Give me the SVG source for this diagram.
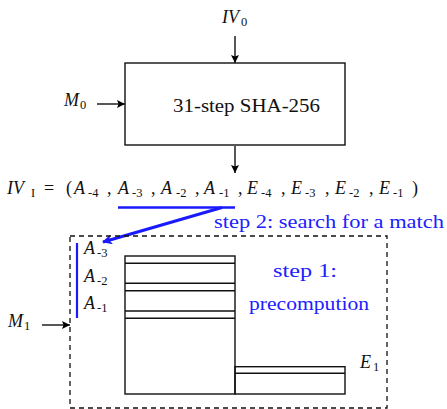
<svg xmlns="http://www.w3.org/2000/svg" width="447" height="409" viewBox="0 0 447 409">
<defs>
<marker id="ah" viewBox="0 0 10 10" refX="10" refY="5" markerWidth="10" markerHeight="8" markerUnits="userSpaceOnUse" orient="auto"><path d="M0,0 L10,5 L0,10 L2,5 z" fill="#000"/></marker>
<marker id="bh" viewBox="0 0 10 10" refX="9" refY="5" markerWidth="14" markerHeight="10" markerUnits="userSpaceOnUse" orient="auto"><path d="M0,0 L10,5 L0,10 L2.5,5 z" fill="#1a1aff"/></marker>
<style>
text{font-family:'Liberation Serif', serif;font-size:18px;fill:#111}
.m{font-style:italic}
.s{font-size:12.5px;font-style:normal}
.b{fill:#2020ff}
.box{fill:none;stroke:#111;stroke-width:1.4}
.ln{stroke:#111;stroke-width:1.4;fill:none}
</style>
</defs>
<g id="connectors">
<line class="ln" x1="235" y1="36" x2="235" y2="63" marker-end="url(#ah)"/>
<line class="ln" x1="97" y1="104" x2="125" y2="104" marker-end="url(#ah)"/>
<line class="ln" x1="235" y1="146" x2="235" y2="173" marker-end="url(#ah)"/>
<line class="ln" x1="42" y1="325" x2="70" y2="325" marker-end="url(#ah)"/>
<line x1="118" y1="207.5" x2="235" y2="207.5" stroke="#1a1aff" stroke-width="2.5"/>
<line x1="222" y1="207.5" x2="103" y2="242" stroke="#1a1aff" stroke-width="3" marker-end="url(#bh)"/>
</g>
<g id="iv0"><text class="m" x="222" y="23">IV</text><text class="s" x="241" y="26">0</text></g>
<g id="m0"><text class="m" x="64" y="106">M</text><text class="s" x="80" y="109">0</text></g>
<g id="sha"><rect class="box" x="125" y="63" width="220" height="82"/><text x="173" y="112" textLength="147" lengthAdjust="spacingAndGlyphs">31-step SHA-256</text></g>
<g id="ivi">
<text class="m" x="7" y="194">IV</text><text class="s" x="31" y="197" font-style="italic">I</text>
<text x="44" y="194">=</text><text x="66" y="194">(</text>
<text class="m" x="74" y="194">A</text><text class="s" x="88" y="197">-4</text><text x="107" y="194">,</text>
<text class="m" x="118" y="194">A</text><text class="s" x="132" y="197">-3</text><text x="151" y="194">,</text>
<text class="m" x="161" y="194">A</text><text class="s" x="176" y="197">-2</text><text x="195" y="194">,</text>
<text class="m" x="204" y="194">A</text><text class="s" x="219" y="197">-1</text><text x="238" y="194">,</text>
<text class="m" x="247" y="194">E</text><text class="s" x="261" y="197">-4</text><text x="281" y="194">,</text>
<text class="m" x="291" y="194">E</text><text class="s" x="305" y="197">-3</text><text x="325" y="194">,</text>
<text class="m" x="335" y="194">E</text><text class="s" x="349" y="197">-2</text><text x="369" y="194">,</text>
<text class="m" x="379" y="194">E</text><text class="s" x="393" y="197">-1</text><text x="412" y="194">)</text>
</g>
<g id="step2"><text class="b" x="214" y="228" textLength="230" lengthAdjust="spacingAndGlyphs">step 2: search for a match</text></g>
<g id="precomp">
<rect x="70" y="236" width="317" height="172" fill="none" stroke="#111" stroke-width="1.3" stroke-dasharray="5,4"/>
<line x1="77" y1="243" x2="77" y2="318" stroke="#1a1aff" stroke-width="2.2"/>
<text class="m" x="84" y="254">A</text><text class="s" x="97" y="257">-3</text>
<text class="m" x="84" y="282">A</text><text class="s" x="97" y="285">-2</text>
<text class="m" x="84" y="309">A</text><text class="s" x="97" y="312">-1</text>
<rect class="box" x="125" y="256" width="110" height="138"/>
<line class="ln" x1="125" y1="263.3" x2="235" y2="263.3"/>
<line class="ln" x1="125" y1="283.3" x2="235" y2="283.3"/>
<line class="ln" x1="125" y1="290.7" x2="235" y2="290.7"/>
<line class="ln" x1="125" y1="311" x2="235" y2="311"/>
<line class="ln" x1="125" y1="318.3" x2="235" y2="318.3"/>
<rect class="box" x="235" y="366.7" width="110" height="27.3"/>
<line class="ln" x1="235" y1="373.3" x2="345" y2="373.3"/>
<text class="b" x="305" y="277" text-anchor="middle" textLength="64" lengthAdjust="spacingAndGlyphs">step 1:</text>
<text class="b" x="309" y="310" text-anchor="middle" textLength="120" lengthAdjust="spacingAndGlyphs">precompution</text>
<text class="m" x="360" y="368">E</text><text class="s" x="373" y="371">1</text>
</g>
<g id="m1"><text class="m" x="8" y="327">M</text><text class="s" x="24" y="330">1</text></g>
</svg>
